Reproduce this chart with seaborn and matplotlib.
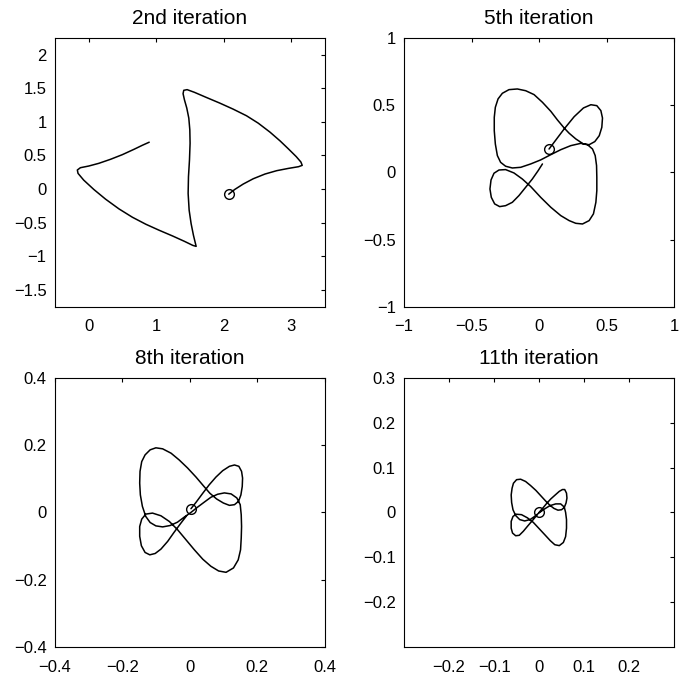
import matplotlib
matplotlib.use("Agg")
import matplotlib.pyplot as plt
import seaborn as sns
from matplotlib.ticker import FuncFormatter

# 2nd iteration (starting at the circle)
p1_x = [2.075, 2.164, 2.289, 2.438, 2.612, 2.786, 2.960, 3.109, 3.164, 3.144,
        3.075, 2.960, 2.836, 2.687, 2.512, 2.338, 2.139, 1.940, 1.741, 1.567,
        1.458, 1.408, 1.398, 1.418, 1.453, 1.483, 1.498, 1.502, 1.493, 1.478,
        1.473, 1.488, 1.517, 1.552, 1.582, 1.592, 1.542, 1.418, 1.244, 1.045,
        0.846, 0.647, 0.448, 0.249, 0.075, -0.075, -0.159, -0.169, -0.124, 0.000,
        0.149, 0.323, 0.498, 0.672, 0.796, 0.896]
p1_y = [-0.075, -0.005, 0.075, 0.154, 0.224, 0.274, 0.308, 0.333, 0.353, 0.403,
        0.483, 0.597, 0.716, 0.846, 0.980, 1.090, 1.189, 1.279, 1.363, 1.438,
        1.478, 1.468, 1.418, 1.328, 1.204, 1.055, 0.881, 0.682, 0.433, 0.184,
        -0.065, -0.313, -0.512, -0.687, -0.811, -0.851, -0.836, -0.776, -0.697, -0.612,
        -0.522, -0.418, -0.294, -0.149, -0.005, 0.134, 0.234, 0.284, 0.318, 0.343,
        0.383, 0.443, 0.512, 0.592, 0.652, 0.697]

# 5th iteration
p2_x = [0.074, 0.186, 0.260, 0.329, 0.384, 0.428, 0.458, 0.470, 0.465, 0.446,
        0.413, 0.371, 0.329, 0.272, 0.223, 0.186, 0.136, 0.087, 0.025, -0.037,
        -0.099, -0.161, -0.223, -0.272, -0.304, -0.324, -0.332, -0.332, -0.324, -0.309,
        -0.285, -0.248, -0.198, -0.136, -0.062, 0.012, 0.087, 0.161, 0.235, 0.309,
        0.359, 0.396, 0.416, 0.426, 0.428, 0.428, 0.421, 0.403, 0.371, 0.322,
        0.272, 0.223, 0.161, 0.087, 0.012, -0.062, -0.124, -0.186, -0.248, -0.297,
        -0.334, -0.356, -0.364, -0.354, -0.329, -0.292, -0.248, -0.198, -0.149, -0.099,
        -0.050, -0.007, 0.025]
p2_y = [0.173, 0.322, 0.413, 0.478, 0.502, 0.495, 0.458, 0.403, 0.334, 0.272,
        0.228, 0.205, 0.210, 0.248, 0.290, 0.329, 0.389, 0.453, 0.520, 0.577,
        0.606, 0.619, 0.614, 0.587, 0.545, 0.483, 0.408, 0.309, 0.210, 0.124,
        0.074, 0.045, 0.032, 0.037, 0.062, 0.092, 0.131, 0.168, 0.198, 0.215,
        0.205, 0.173, 0.124, 0.050, -0.037, -0.136, -0.223, -0.309, -0.359, -0.384,
        -0.379, -0.359, -0.322, -0.260, -0.186, -0.106, -0.050, -0.005, 0.020, 0.017,
        -0.007, -0.057, -0.124, -0.186, -0.235, -0.255, -0.248, -0.223, -0.173, -0.111,
        -0.050, 0.012, 0.062]

# 8th iteration
p3_x = [0.003, 0.018, 0.038, 0.057, 0.077, 0.097, 0.117, 0.132, 0.145, 0.153,
        0.156, 0.155, 0.151, 0.144, 0.132, 0.117, 0.099, 0.079, 0.059, 0.040,
        0.018, -0.007, -0.032, -0.056, -0.081, -0.101, -0.118, -0.133, -0.143, -0.148,
        -0.149, -0.147, -0.141, -0.131, -0.118, -0.101, -0.081, -0.059, -0.037, -0.017,
        0.003, 0.023, 0.043, 0.062, 0.082, 0.102, 0.122, 0.139, 0.149, 0.152,
        0.153, 0.152, 0.150, 0.143, 0.129, 0.107, 0.085, 0.062, 0.038, 0.013,
        -0.012, -0.037, -0.061, -0.086, -0.111, -0.131, -0.143, -0.149, -0.149, -0.144,
        -0.133, -0.119, -0.103, -0.086, -0.066, -0.047, -0.027, -0.010]
p3_y = [0.011, 0.030, 0.057, 0.082, 0.105, 0.124, 0.137, 0.141, 0.137, 0.122,
        0.102, 0.077, 0.052, 0.033, 0.023, 0.021, 0.028, 0.040, 0.057, 0.079,
        0.105, 0.132, 0.156, 0.176, 0.189, 0.192, 0.186, 0.171, 0.151, 0.122,
        0.087, 0.052, 0.018, -0.012, -0.030, -0.040, -0.043, -0.039, -0.029, -0.014,
        0.000, 0.016, 0.031, 0.045, 0.054, 0.058, 0.055, 0.043, 0.023, -0.007,
        -0.042, -0.076, -0.111, -0.141, -0.165, -0.178, -0.174, -0.160, -0.139, -0.111,
        -0.081, -0.051, -0.027, -0.010, -0.002, -0.005, -0.020, -0.042, -0.071, -0.099,
        -0.119, -0.126, -0.122, -0.109, -0.086, -0.059, -0.032, -0.010]

# 11th iteration
p4_x = [0.000, 0.007, 0.016, 0.026, 0.036, 0.045, 0.052, 0.057, 0.061, 0.062,
        0.060, 0.056, 0.050, 0.042, 0.033, 0.024, 0.015, 0.004, -0.007, -0.019,
        -0.030, -0.041, -0.050, -0.057, -0.060, -0.062, -0.061, -0.058, -0.052, -0.043,
        -0.032, -0.020, -0.010, 0.000, 0.011, 0.024, 0.037, 0.048, 0.056, 0.059,
        0.061, 0.061, 0.059, 0.054, 0.045, 0.035, 0.025, 0.013, 0.000, -0.013,
        -0.026, -0.039, -0.051, -0.058, -0.062, -0.062, -0.059, -0.052, -0.044, -0.035,
        -0.025, -0.013, -0.004]
p4_y = [0.000, 0.008, 0.019, 0.030, 0.039, 0.047, 0.051, 0.051, 0.043, 0.032,
        0.021, 0.011, 0.006, 0.005, 0.009, 0.016, 0.025, 0.037, 0.049, 0.060,
        0.069, 0.074, 0.073, 0.065, 0.054, 0.039, 0.022, 0.006, -0.007, -0.016,
        -0.019, -0.016, -0.009, -0.001, 0.007, 0.015, 0.019, 0.019, 0.012, 0.000,
        -0.016, -0.035, -0.054, -0.067, -0.074, -0.072, -0.063, -0.050, -0.036, -0.022,
        -0.012, -0.005, -0.004, -0.009, -0.020, -0.035, -0.046, -0.052, -0.051, -0.042,
        -0.030, -0.016, -0.005]

titles = ["2nd iteration", "5th iteration", "8th iteration", "11th iteration"]
xlims = [(-0.5, 3.5), (-1, 1), (-0.4, 0.4), (-0.3, 0.3)]
ylims = [(-1.75, 2.25), (-1, 1), (-0.4, 0.4), (-0.3, 0.3)]
xticks = [[0, 1, 2, 3], [-1, -0.5, 0, 0.5, 1], [-0.4, -0.2, 0, 0.2, 0.4],
          [-0.2, -0.1, 0, 0.1, 0.2]]
yticks = [[-1.5, -1, -0.5, 0, 0.5, 1, 1.5, 2], [-1, -0.5, 0, 0.5, 1],
          [-0.4, -0.2, 0, 0.2, 0.4], [-0.2, -0.1, 0, 0.1, 0.2, 0.3]]

sns.set_style("white")
plt.rcParams['font.family'] = ['Liberation Sans', 'DejaVu Sans']

fig = plt.figure(figsize=(6.92, 6.73), dpi=100)
boxes = [[0.0795, 0.544, 0.39, 0.40], [0.584, 0.544, 0.39, 0.40],
         [0.0795, 0.0386, 0.39, 0.40], [0.584, 0.0386, 0.39, 0.40]]
curves = [(p1_x, p1_y), (p2_x, p2_y), (p3_x, p3_y), (p4_x, p4_y)]

fmt = FuncFormatter(lambda v, p: f"{v:g}".replace("-", "\u2212"))

for i in range(4):
    ax = fig.add_axes(boxes[i])
    cx, cy = curves[i]
    sns.lineplot(x=cx, y=cy, sort=False, estimator=None, color='k', lw=1.1, ax=ax)
    # circle marks the start point
    ax.plot(cx[0], cy[0], 'o', mfc='none', mec='k', ms=7, mew=1)
    ax.set_xlim(xlims[i])
    ax.set_ylim(ylims[i])
    ax.set_xticks(xticks[i])
    ax.set_yticks(yticks[i])
    ax.xaxis.set_major_formatter(fmt)
    ax.yaxis.set_major_formatter(fmt)
    ax.tick_params(direction='in', top=True, right=True, length=3, width=0.8,
                   labelsize=12, pad=6, colors='k')
    ax.tick_params(axis='x', pad=9)
    for s in ax.spines.values():
        s.set_color('k')
        s.set_linewidth(0.8)
    ax.set_title(titles[i], fontsize=15, pad=10, color='k')

plt.savefig("out.png", dpi=100)
